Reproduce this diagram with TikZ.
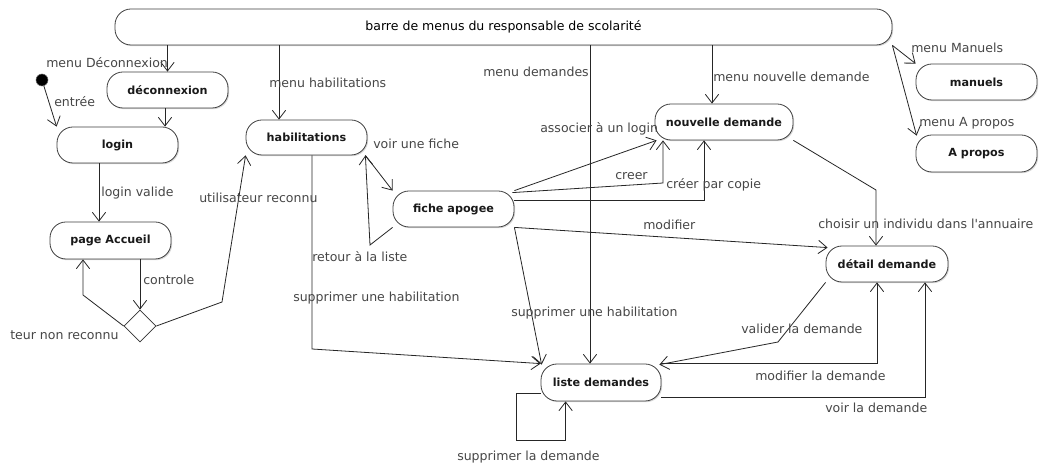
\documentclass[tikz,border=0pt]{standalone}
\usepackage{fontspec}
\setmainfont{DejaVu Sans}[Ligatures=TeXOff]
\usetikzlibrary{arrows.meta,calc,shapes.geometric,shadows}
\newcommand{\lblfont}{\fontsize{9.4}{11}\selectfont}
\newcommand{\boxfont}{\fontsize{8.4}{10}\selectfont\bfseries}
\tikzset{
  st/.style={draw=black!75, line width=0.6pt, rounded corners=12pt, minimum width=90.75pt,
    minimum height=27pt, inner sep=0pt, fill=white, font=\boxfont, text=black!90,
    drop shadow={shadow xshift=0.9pt, shadow yshift=-0.9pt, opacity=0.3}},
  arr/.style={-{Straight Barb[length=6.5pt,width=10pt]}, draw=black!85, line width=0.6pt},
  lbl/.style={font=\lblfont, text=black!72, inner sep=0pt, anchor=west},
  decision/.style={diamond, draw=black!80, line width=0.6pt, fill=white, minimum width=24pt,
    minimum height=24pt, inner sep=0pt, aspect=1},
  initial/.style={circle, fill=black, draw=black!60, minimum size=9pt, inner sep=0pt}
}
\begin{document}
\begin{tikzpicture}[x=0.75pt,y=-0.75pt]
\useasboundingbox[fill=white] (0,0) rectangle (1040,466);

% nodes
\node[st, minimum width=582.75pt, font=\lblfont, text=black] (bar) at (503.5,27) {barre de menus du responsable de scolarité};
\node[initial] (init) at (42,80) {};
\node[st] (deco) at (167.5,90) {déconnexion};
\node[st] (login) at (117.5,145) {login};
\node[st, minimum height=27.75pt] (accueil) at (110.5,240.5) {page Accueil};
\node[decision] (dec) at (140,326) {};
\node[st, minimum height=26.25pt] (hab) at (306.5,137.5) {habilitations};
\node[st] (fiche) at (453.5,209) {fiche apogee};
\node[st, minimum width=103.5pt] (nouv) at (724,122) {nouvelle demande};
\node[st, minimum width=91.5pt] (detail) at (887,264) {détail demande};
\node[st, minimum width=90pt, minimum height=27.75pt] (liste) at (601,382.5) {liste demandes};
\node[st] (manuels) at (976.5,82) {manuels};
\node[st, minimum height=27.75pt] (apropos) at (976.5,153.5) {A propos};

% bend points
\coordinate (cA) at (83,295);
\coordinate (cB) at (222,302);
\coordinate (cC) at (370,245);
\coordinate (cD) at (778,342);
\coordinate (cE) at (876,190);
\coordinate (cF) at (312,349);
\coordinate (cG) at (663,183);
\coordinate (cH) at (704,200);

% connectors
\draw[arr] (bar.south -| deco.north) -- (deco.north);
\draw[arr] (init) -- (login.north west);
\draw[arr] ($(deco.south)+(-2.5,0)$) coordinate (t1) -- (t1 |- login.north);
\draw[arr] ($(login.south)+(-18.5,0)$) coordinate (t2) -- (t2 |- accueil.north);
\draw[arr] (accueil.south -| dec.north) -- (dec.north);
\draw[arr] (dec.west) -- (cA) -- (cA |- accueil.south);
\draw[arr] (dec.east) -- (cB) -- (hab.south west);
\draw[arr] ($(hab.north)+(-27.5,0)$) coordinate (t3) (t3 |- bar.south) -- (t3);
\draw[arr] ($(hab.south)+(5.5,0)$) -- (cF) -- (liste.north west);
\draw[arr] ($(hab.south east)+(-2,0)$) -- (fiche.north west);
\draw[arr] (fiche.south west) -- (cC) -- ($(hab.south east)+(-2,0)$);
\draw[arr] ($(liste.north)+(-11,0)$) coordinate (t5) (t5 |- bar.south) -- (t5);
\draw[arr] ($(nouv.north)+(-12,0)$) coordinate (t6) (t6 |- bar.south) -- (t6);
\draw[arr] (fiche.north east) -- ($(nouv.south west)+(2,0)$);
\draw[arr] ($(fiche.north east)+(-2,2)$) -- (cG) -- (cG |- nouv.south);
\draw[arr] ($(fiche.east)+(0,-9)$) -- (cH) -- (cH |- nouv.south);
\draw[arr] (fiche.south east) -- ($(detail.north west)+(2,2)$);
\draw[arr] (fiche.south east) -- ($(liste.north west)+(1,1)$);
\draw[arr] (nouv.south east) -- (cE) -- (cE |- detail.north);
\draw[arr] (detail.south west) -- (cD) -- ($(liste.north east)+(-2,1)$);
\draw[arr] (liste.north east) -| ($(detail.south)+(-10,0)$);
\draw[arr] ($(liste.south east)+(0,-4)$) -| ($(detail.south)+(38,0)$);
\draw[arr] ($(liste.south west)+(0,-8)$) -- ++(-24,0) -- ++(0,47) -| ($(liste.south west)+(25,0)$);
\draw[arr] (bar.south east) -- (manuels.north west);
\draw[arr] (bar.south east) -- ($(apropos.north west)+(1,1)$);

% labels
\node[lbl] (l1) at (46,63) {menu Déconnexion};
\node[lbl] (l2) at (54,102) {entrée};
\node[lbl] (l3) at (101,193) {login valide};
\node[lbl] (l4) at (143,280) {controle};
\node[lbl] (l5) at (10,335) {teur non reconnu};
\node[lbl] (l6) at (199,198) {utilisateur reconnu};
\node[lbl] (l7) at (269,83) {menu habilitations};
\node[lbl] (l8) at (293,298) {supprimer une habilitation};
\node[lbl] (l9) at (373,144) {voir une fiche};
\node[lbl] (l10) at (312,257) {retour à la liste};
\node[lbl] (l11) at (483,72) {menu demandes};
\node[lbl] (l12) at (713,77) {menu nouvelle demande};
\node[lbl] (l13) at (540,129) {associer à un login};
\node[lbl] (l14) at (615,176) {creer};
\node[lbl] (l15) at (666,185) {créer par copie};
\node[lbl] (l16) at (643,225) {modifier};
\node[lbl] (l17) at (818,224) {choisir un individu dans l'annuaire};
\node[lbl] (l18) at (511,313) {supprimer une habilitation};
\node[lbl] (l19) at (741,329) {valider la demande};
\node[lbl] (l20) at (755,376) {modifier la demande};
\node[lbl] (l21) at (825,408) {voir la demande};
\node[lbl] (l22) at (457,457) {supprimer la demande};
\node[lbl] (l23) at (911,48) {menu Manuels};
\node[lbl] (l24) at (919,123) {menu A propos};
\end{tikzpicture}
\end{document}
